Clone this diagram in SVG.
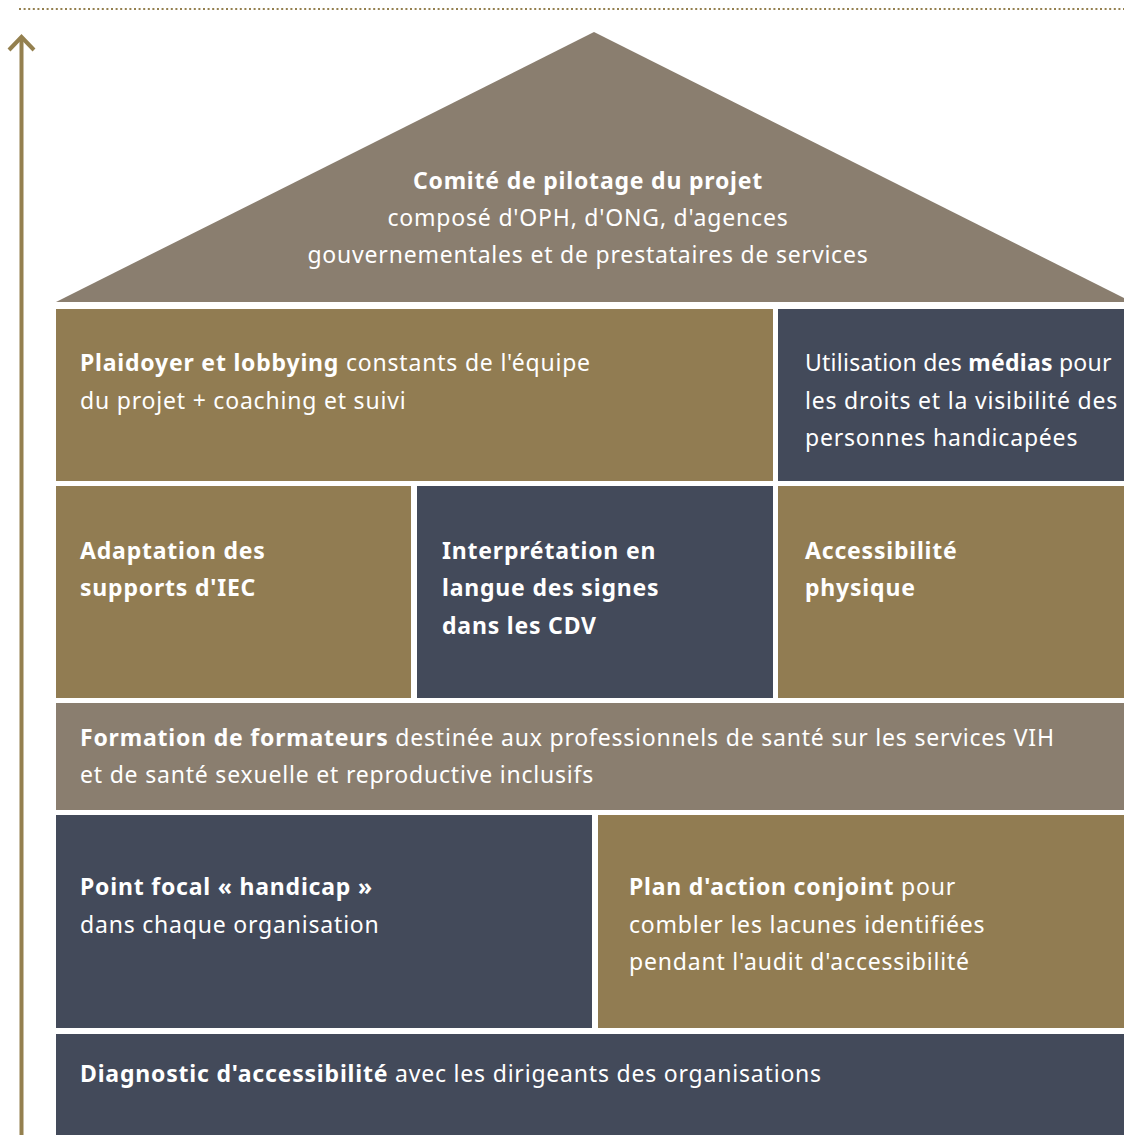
<svg xmlns="http://www.w3.org/2000/svg" width="1124" height="1135" viewBox="0 0 1124 1135">
<style>
.brown{fill:#917c52}
.taupe{fill:#8a7e6f}
.dark{fill:#434a5a}
text{font-family:"Noto Sans","Liberation Sans",sans-serif;font-size:23px;letter-spacing:0.8px;fill:#ffffff}
.b{font-weight:bold}
</style>
<rect width="1124" height="1135" fill="#ffffff"/>
<g id="connectors">
<line x1="19" y1="9" x2="1124" y2="9" stroke="#94804f" stroke-width="2" stroke-dasharray="2 2.6"/>
<line x1="21.5" y1="38" x2="21.5" y2="1135" stroke="#94804f" stroke-width="4"/>
<polyline points="9,50 21.5,37 34,50" fill="none" stroke="#94804f" stroke-width="4"/>
</g>
<g id="roof">
<polygon class="taupe" points="56,302 594,32 1132,302"/>
<text x="588" y="189" text-anchor="middle" class="b">Comité de pilotage du projet</text>
<text x="588" y="226" text-anchor="middle">composé d'OPH, d'ONG, d'agences</text>
<text x="588" y="263" text-anchor="middle">gouvernementales et de prestataires de services</text>
</g>
<g id="plaidoyer">
<rect class="brown" x="56" y="309" width="717" height="172"/>
<text x="80" y="371"><tspan class="b">Plaidoyer et lobbying</tspan> constants de l'équipe</text>
<text x="80" y="409">du projet + coaching et suivi</text>
</g>
<g id="medias">
<rect class="dark" x="778" y="309" width="346" height="172"/>
<text x="805" y="371" style="letter-spacing:0.25px">Utilisation des <tspan class="b">médias</tspan> pour</text>
<text x="805" y="409">les droits et la visibilité des</text>
<text x="805" y="446">personnes handicapées</text>
</g>
<g id="adaptation">
<rect class="brown" x="56" y="486" width="355" height="212"/>
<text x="80" y="559" class="b">Adaptation des</text>
<text x="80" y="596" class="b">supports d'IEC</text>
</g>
<g id="interpretation">
<rect class="dark" x="417" y="486" width="356" height="212"/>
<text x="442" y="559" class="b">Interprétation en</text>
<text x="442" y="596" class="b">langue des signes</text>
<text x="442" y="634" class="b">dans les CDV</text>
</g>
<g id="accessibilite">
<rect class="brown" x="778" y="486" width="346" height="212"/>
<text x="805" y="559" class="b">Accessibilité</text>
<text x="805" y="596" class="b">physique</text>
</g>
<g id="formation">
<rect class="taupe" x="56" y="703" width="1068" height="107"/>
<text x="80" y="746"><tspan class="b">Formation de formateurs</tspan> destinée aux professionnels de santé sur les services VIH</text>
<text x="80" y="783">et de santé sexuelle et reproductive inclusifs</text>
</g>
<g id="point-focal">
<rect class="dark" x="56" y="815" width="536" height="213"/>
<text x="80" y="895" class="b">Point focal « handicap »</text>
<text x="80" y="933">dans chaque organisation</text>
</g>
<g id="plan-action">
<rect class="brown" x="598" y="815" width="526" height="213"/>
<text x="629" y="895"><tspan class="b">Plan d'action conjoint</tspan> pour</text>
<text x="629" y="933">combler les lacunes identifiées</text>
<text x="629" y="970">pendant l'audit d'accessibilité</text>
</g>
<g id="diagnostic">
<rect class="dark" x="56" y="1034" width="1068" height="101"/>
<text x="80" y="1082"><tspan class="b">Diagnostic d'accessibilité</tspan> avec les dirigeants des organisations</text>
</g>
</svg>
